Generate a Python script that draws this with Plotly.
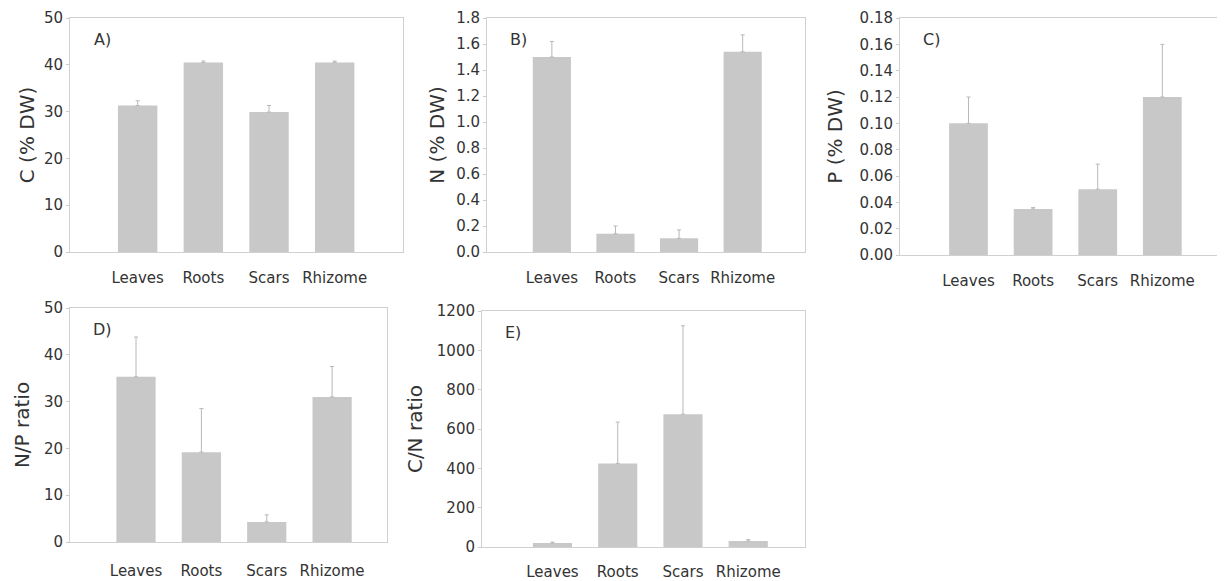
import plotly.graph_objects as go

categories = ["Leaves", "Roots", "Scars", "Rhizome"]

c_vals = [31.3, 40.5, 29.9, 40.5]
c_err = [1.0, 0.3, 1.4, 0.3]

n_vals = [1.50, 0.14, 0.105, 1.54]
n_err = [0.12, 0.06, 0.065, 0.13]

p_vals = [0.100, 0.035, 0.050, 0.120]
p_err = [0.020, 0.001, 0.019, 0.040]

np_vals = [35.3, 19.2, 4.3, 31.0]
np_err = [8.5, 9.3, 1.5, 6.5]

cn_vals = [20, 425, 675, 30]
cn_err = [5, 210, 450, 8]

panels = [
    dict(vals=c_vals, err=c_err, title="C (% DW)", label="A)", rng=[0, 50], dtick=10, fmt="d",
         xdom=(70, 403), ydom=(18, 252), xr=[-1.03, 4.04], so=12, tso=3),
    dict(vals=n_vals, err=n_err, title="N (% DW)", label="B)", rng=[0, 1.8], dtick=0.2, fmt=".1f",
         xdom=(487, 805), ydom=(18, 252), xr=[-1.02, 3.98], so=12, tso=6),
    dict(vals=p_vals, err=p_err, title="P (% DW)", label="C)", rng=[0, 0.18], dtick=0.02, fmt=".2f",
         xdom=(900, 1225), ydom=(18, 255), xr=[-1.06, 3.97], so=12, tso=11),
    dict(vals=np_vals, err=np_err, title="N/P ratio", label="D)", rng=[0, 50], dtick=10, fmt="d",
         xdom=(70, 387), ydom=(308, 542), xr=[-1.01, 3.84], so=15, tso=8),
    dict(vals=cn_vals, err=cn_err, title="C/N ratio", label="E)", rng=[0, 1200], dtick=200, fmt="d",
         xdom=(482, 805), ydom=(311, 547), xr=[-1.08, 3.87], so=11, tso=8),
]

OFF = 8  # default page body margin
W, H = 1225 - OFF, 581 - OFF
FONT = "DejaVu Sans"
TXT = "#333333"
FRAME = "#d0d0d0"

fig = go.Figure()
layout = {}
annotations = []
for i, p in enumerate(panels):
    sfx = "" if i == 0 else str(i + 1)
    fig.add_trace(go.Bar(
        x=categories, y=p["vals"],
        error_y=dict(type="data", array=p["err"], symmetric=False, arrayminus=[0] * 4,
                     color="#b8b8b8", thickness=1, width=2),
        marker=dict(color="#c8c8c8", line=dict(width=0)),
        width=0.6, showlegend=False,
        xaxis="x" + sfx, yaxis="y" + sfx,
    ))
    x0, x1 = [v - OFF for v in p["xdom"]]
    y0, y1 = [v - OFF for v in p["ydom"]]
    layout["xaxis" + sfx] = dict(
        domain=[x0 / W, min(x1 / W, 1.0)], anchor="y" + sfx, range=p["xr"], automargin=False,
        type="category", showgrid=False, ticks="", showline=True, mirror=True,
        linecolor=FRAME, linewidth=1, zeroline=False,
        tickfont=dict(family=FONT, size=15, color=TXT), ticklabelstandoff=p["so"],
    )
    layout["yaxis" + sfx] = dict(
        domain=[1 - y1 / H, 1 - y0 / H], anchor="x" + sfx, range=p["rng"], automargin=False,
        dtick=p["dtick"], tick0=0, tickformat=p["fmt"], showgrid=False,
        ticks="outside", ticklen=3, tickcolor="#cccccc", showline=True, mirror=True,
        linecolor=FRAME, linewidth=1, zeroline=False,
        tickfont=dict(family=FONT, size=15, color=TXT),
        title=dict(text=p["title"], font=dict(family=FONT, size=20, color=TXT), standoff=p["tso"]),
    )
    annotations.append(dict(
        text=p["label"], xref="x" + sfx + " domain", yref="y" + sfx + " domain",
        x=0.065, y=0.91, xanchor="left", yanchor="middle", showarrow=False,
        font=dict(family=FONT, size=16, color=TXT),
    ))

fig.update_layout(
    width=W, height=H, margin=dict(l=0, r=0, t=0, b=0),
    paper_bgcolor="white", plot_bgcolor="white",
    annotations=annotations, **layout,
)
fig.write_html("out.html")
